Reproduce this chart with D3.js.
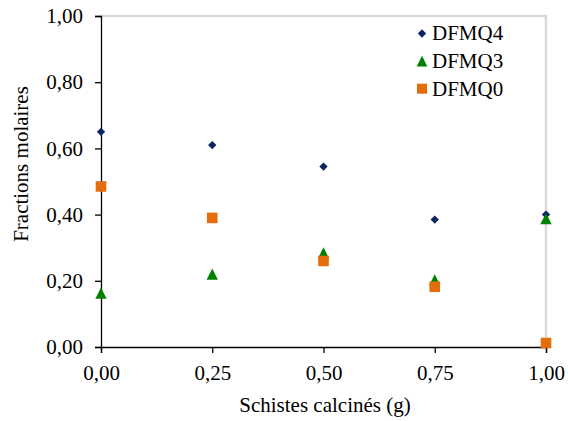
<!DOCTYPE html>
<html><head><meta charset="utf-8">
<script src="https://cdn.jsdelivr.net/npm/d3@7"></script>
<style>body{margin:0;background:#fff}svg{display:block}</style>
</head><body>
<svg id="c" width="568" height="421"></svg>
<script>
const xValues = [0, 0.25, 0.5, 0.75, 1.0];
const dfmq4 = [0.65, 0.61, 0.545, 0.385, 0.40];
const dfmq3 = [0.163, 0.22, 0.284, 0.203, 0.388];
const dfmq0 = [0.485, 0.39, 0.26, 0.182, 0.012];
const xTicks = [0, 0.25, 0.5, 0.75, 1.0];
const yTicks = [0, 0.2, 0.4, 0.6, 0.8, 1.0];
const seriesNames = ["DFMQ4", "DFMQ3", "DFMQ0"];
const seriesColors = ["#0c2366", "#008000", "#e46c0a"];

const FONT = '"Liberation Serif", "Times New Roman", serif';
const svg = d3.select("#c");
const x = d3.scaleLinear().domain([0, 1]).range([101, 546]);
const y = d3.scaleLinear().domain([0, 1]).range([347, 16]);
const fmt = d => d.toFixed(2).replace(".", ",");

svg.append("path").attr("d", `M${x(0)},${y(1)}H${x(1)}V${y(0)}`)
  .attr("fill", "none").attr("stroke", "#d9d9d9").attr("stroke-width", 2.5);

const ya = svg.append("g").attr("transform", `translate(${x(0)},0)`)
  .call(d3.axisLeft(y).tickValues(yTicks).tickFormat(fmt).tickSize(6).tickPadding(12));
const xa = svg.append("g").attr("transform", `translate(0,${y(0)})`)
  .call(d3.axisBottom(x).tickValues(xTicks).tickFormat(fmt).tickSize(6).tickPadding(12));
[ya, xa].forEach(a => {
  a.attr("font-family", null).attr("font-size", null);
  a.selectAll("path,line").attr("stroke", "#000").attr("stroke-width", 1.3);
  a.selectAll("text").style("font-family", FONT).style("font-size", "21px").attr("fill", "#000");
});

svg.append("text").attr("x", 325).attr("y", 412).attr("text-anchor", "middle")
  .style("font-family", FONT).style("font-size", "21px").text("Schistes calcinés (g)");
svg.append("text").attr("transform", "translate(28,164) rotate(-90)").attr("text-anchor", "middle")
  .style("font-family", FONT).style("font-size", "21px").text("Fractions molaires");

// isoceles triangle (width = height) centred on the point
const tri = {draw(ctx, size) { const h = Math.sqrt(size); ctx.moveTo(0, -h / 2); ctx.lineTo(h / 2, h / 2); ctx.lineTo(-h / 2, h / 2); ctx.closePath(); }};
const symbols = [d3.symbolDiamond2, tri, d3.symbolSquare];
const sizes = [44, 128, 112];
const data = [dfmq4, dfmq3, dfmq0];
data.forEach((vals, i) => {
  svg.append("g").selectAll("path").data(vals).join("path")
    .attr("d", d3.symbol(symbols[i], sizes[i]))
    .attr("transform", (d, j) => `translate(${x(xValues[j])},${y(d)})`)
    .attr("fill", seriesColors[i]);
});

const lg = svg.append("g");
const legSizes = [44, 112, 100];
seriesNames.forEach((n, i) => {
  const yy = 33.5 + i * 27.6;
  lg.append("path").attr("d", d3.symbol(symbols[i], legSizes[i]))
    .attr("transform", `translate(422,${yy})`).attr("fill", seriesColors[i]);
  lg.append("text").attr("x", 432).attr("y", yy + 6.8)
    .style("font-family", FONT).style("font-size", "21px").text(n);
});
</script>
</body></html>
